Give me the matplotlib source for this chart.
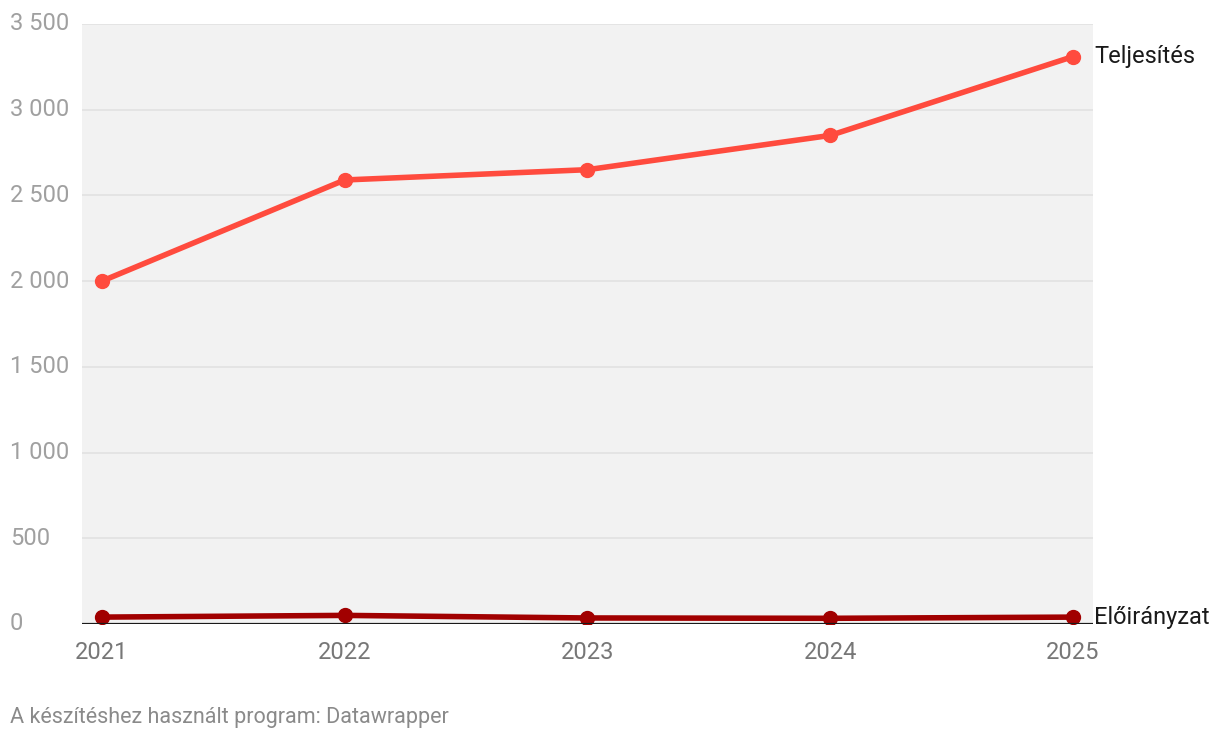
import matplotlib.pyplot as plt
from matplotlib import transforms

plt.rcParams["font.family"] = ["Roboto", "DejaVu Sans"]

years = [2021, 2022, 2023, 2024, 2025]
teljesites = [2000, 2590, 2650, 2850, 3310]
eloiranyzat = [40, 50, 35, 33, 40]
y_ticks = [0, 500, 1000, 1500, 2000, 2500, 3000, 3500]
y_tick_labels = ["0", "500", "1 000", "1 500", "2 000", "2 500", "3 000", "3 500"]

fig = plt.figure(figsize=(12.2, 7.4), dpi=100)
ax = fig.add_axes([0.0672, 0.1568, 0.8287, 0.8108])
ax.set_facecolor("#f2f2f2")

for y in y_ticks[1:]:
    ax.axhline(y, color="#e2e2e2", linewidth=1.2, zorder=1)
ax.axhline(0, color="#1a1a1a", linewidth=1.6, zorder=4)

series = [
    ("Teljesítés", teljesites, "#ff4b3e"),
    ("Előirányzat", eloiranyzat, "#a10000"),
]
for name, vals, color in series:
    ax.plot(years, vals, color=color, linewidth=4, marker="o",
            markersize=10, zorder=3, solid_capstyle="round")
    ax.annotate(name, (years[-1], vals[-1]), xytext=(15, 0),
                textcoords="offset points", va="center", ha="left",
                fontsize=17, color="#1a1a1a", annotation_clip=False)

ax.set_xlim(2020.918, 2025.082)
ax.set_ylim(0, 3500)
for s in ax.spines.values():
    s.set_visible(False)
ax.set_yticks([])
ax.set_xticks(years)
ax.set_xticklabels([str(y) for y in years], fontsize=17, color="#777777")
ax.tick_params(axis="x", length=0, pad=12)

trans = transforms.blended_transform_factory(fig.transFigure, ax.transData)
for val, lab in zip(y_ticks, y_tick_labels):
    ax.text(10 / 1220, val, lab, transform=trans, ha="left", va="center",
            fontsize=17, color="#a0a0a0")

fig.text(10 / 1220, 1 - 717 / 740, "A készítéshez használt program: Datawrapper",
         fontsize=15.5, color="#8a8a8a", ha="left", va="center")

fig.savefig("out.png", dpi=100)
